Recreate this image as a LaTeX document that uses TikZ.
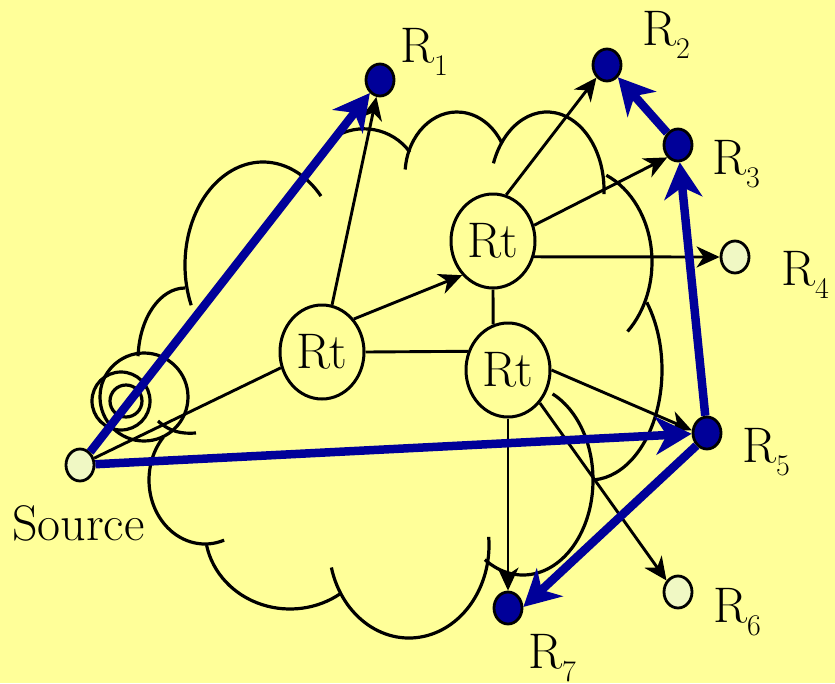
\documentclass[tikz,border=0pt]{standalone}
\usepackage{fontspec}
\usetikzlibrary{arrows.meta,shapes.geometric}
\definecolor{bgc}{HTML}{FFFF99}
\definecolor{nblue}{HTML}{000099}
\definecolor{nlight}{HTML}{F0F8C4}
\newcommand\subl[1]{\raisebox{-13pt}{\fontsize{30}{30}\selectfont #1}}
\newcommand\cloudarc[6]{\draw[cloudline] ({#1+#3*cos(#5)},{#2+#4*sin(#5)}) arc[start angle=#5,end angle=#6,x radius=#3,y radius=#4];}
\begin{document}
\begin{tikzpicture}[x=1pt,y=1pt,yscale=-1,
  cloudline/.style={draw=black,line width=3.2pt},
  rt/.style={ellipse,draw=black,line width=3pt,fill=bgc,minimum width=84pt,minimum height=94pt,inner sep=0pt,font=\fontsize{50}{50}\selectfont},
  dark/.style={ellipse,draw=black,line width=2.8pt,fill=nblue,minimum width=28pt,minimum height=32pt,inner sep=0pt},
  light/.style={ellipse,draw=black,line width=2.8pt,fill=nlight,minimum width=28pt,minimum height=32pt,inner sep=0pt},
  lab/.style={anchor=base west,inner sep=0pt,font=\fontsize{50}{50}\selectfont},
  ln/.style={draw=black,line width=2.9pt},
  arr/.style={draw=black,line width=2.9pt,-{Stealth[length=23pt,width=21pt,inset=7pt]}},
  barr/.style={draw=nblue,line width=8.5pt,-{Stealth[length=36pt,width=38pt,inset=11pt]}}
]
\fill[bgc] (0,0) rectangle (835,683);
\useasboundingbox (0,0) rectangle (835,683);
% cloud
\cloudarc{263}{265}{78}{103}{157}{318}
\cloudarc{185}{360}{47}{72}{270}{183}
\cloudarc{205}{480}{56}{64}{222}{70}
\cloudarc{290}{530}{85}{79}{169}{54}
\cloudarc{409}{545}{80}{93}{166}{-5}
\cloudarc{523}{480}{70}{95}{123}{-65}
\cloudarc{590}{370}{72}{110}{-38}{86}
\cloudarc{575}{262}{77}{95}{-66}{47}
\cloudarc{547}{190}{57}{78}{200}{363}
\cloudarc{457}{175}{52}{63}{185}{330}
\cloudarc{364}{185.5}{56.7}{56.7}{237}{324}
% thought circles
\draw[cloudline] (126,401) circle[radius=16];
\draw[cloudline] (121,401) circle[radius=29];
\draw[cloudline] (144,397) circle[radius=44];
\draw[cloudline] (158,421) .. controls (170,432) and (182,434) .. (196,433);
% nodes
\node[rt] (Rt1) at (322,352) {Rt};
\node[rt] (Rt2) at (493,241) {Rt};
\node[rt] (Rt3) at (508,370) {Rt};
\node[light] (Src) at (80,465) {};
\node[dark] (R1) at (380,80) {};
\node[dark] (R2) at (607,65) {};
\node[dark] (R3) at (678,145) {};
\node[light] (R4) at (735,257) {};
\node[dark] (R5) at (707,433) {};
\node[light] (R6) at (678,592) {};
\node[dark] (R7) at (508,608) {};
% labels
\node[lab] (L1) at (400,62) {R\subl{1}};
\node[lab] (L2) at (642,45) {R\subl{2}};
\node[lab] (L3) at (712,174) {R\subl{3}};
\node[lab] (L4) at (781,285) {R\subl{4}};
\node[lab] (L5) at (742,462) {R\subl{5}};
\node[lab] (L6) at (713,622) {R\subl{6}};
\node[lab] (L7) at (528,668) {R\subl{7}};
\node[lab] (LS) at (12,540) {Source};
% black connectors
\draw[ln] (Src) -- (Rt1.201);
\draw[arr] (Rt1) -- (R1);
\draw[arr] (Rt1.46) -- (Rt2.228);
\draw[ln] (Rt1.east) -- (Rt3.155.7);
\draw[ln] (Rt2.south) -- (Rt3.108.4);
\draw[arr] (Rt2.74) -- (R2.230);
\draw[arr] (Rt2.21) -- (R3.229);
\draw[arr] (Rt2.-21.6) -- (R4.west);
\draw[arr] (Rt3.east) -- (R5.170);
\draw[arr] (Rt3.-46) -- (R6.135);
\draw[arr] (Rt3.south) -- (R7.north);
% blue multicast paths
\draw[barr] (Src) -- (R1);
\draw[barr] (Src) -- (R5);
\draw[barr] (R5) -- (R3);
\draw[barr] (R3) -- (R2);
\draw[barr] (R5.230) -- (R7.4);
\end{tikzpicture}
\end{document}
